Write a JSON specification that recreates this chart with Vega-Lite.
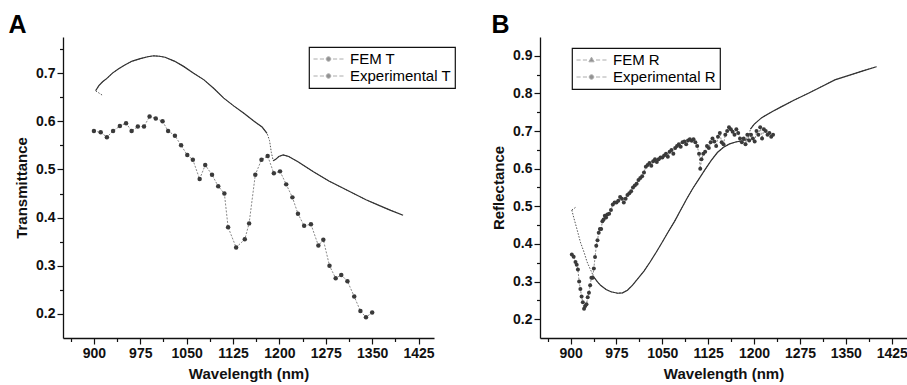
{
  "$schema": "https://vega.github.io/schema/vega-lite/v6.json",
  "background": "white",
  "padding": {"left": 8, "top": 13, "right": 0, "bottom": 2},
  "spacing": 35,
  "config": {
    "view": {"stroke": null},
    "font": "Liberation Sans",
    "axis": {
      "grid": false,
      "domainColor": "#111",
      "domainWidth": 1.3,
      "tickColor": "#111",
      "tickWidth": 1.2,
      "labelFont": "Liberation Sans",
      "labelFontSize": 14,
      "labelFontWeight": "bold",
      "labelColor": "#111",
      "titleFont": "Liberation Sans",
      "titleFontSize": 15,
      "titleFontWeight": "bold",
      "titleColor": "#111",
      "labelOverlap": false,
      "labelBound": false,
      "labelFlush": false,
      "labelPadding": 2,
      "titlePadding": 6
    },
    "legend": {
      "strokeColor": "#111",
      "strokeWidth": 1.2,
      "fillColor": "#fff",
      "padding": 4,
      "labelFontSize": 15,
      "labelFont": "Liberation Sans",
      "labelFontWeight": "normal",
      "labelColor": "#000",
      "symbolSize": 225,
      "labelOffset": 21,
      "rowPadding": 1,
      "symbolStrokeWidth": 1
    }
  },
  "datasets": {
    "Afem": [
      {"wavelength": 903, "T": 0.664}, {"wavelength": 908, "T": 0.674}, {"wavelength": 914, "T": 0.682},
      {"wavelength": 921, "T": 0.689}, {"wavelength": 930, "T": 0.7}, {"wavelength": 940, "T": 0.709},
      {"wavelength": 950, "T": 0.717}, {"wavelength": 962, "T": 0.725}, {"wavelength": 975, "T": 0.73},
      {"wavelength": 987, "T": 0.734}, {"wavelength": 997, "T": 0.736}, {"wavelength": 1006, "T": 0.735},
      {"wavelength": 1015, "T": 0.733}, {"wavelength": 1030, "T": 0.725}, {"wavelength": 1045, "T": 0.714},
      {"wavelength": 1060, "T": 0.701}, {"wavelength": 1078, "T": 0.686}, {"wavelength": 1094, "T": 0.668},
      {"wavelength": 1110, "T": 0.648}, {"wavelength": 1126, "T": 0.632}, {"wavelength": 1142, "T": 0.617},
      {"wavelength": 1158, "T": 0.601}, {"wavelength": 1172, "T": 0.588}, {"wavelength": 1180, "T": 0.575},
      {"wavelength": 1184, "T": 0.56}, {"wavelength": 1187, "T": 0.535}, {"wavelength": 1190, "T": 0.518},
      {"wavelength": 1194, "T": 0.521}, {"wavelength": 1199, "T": 0.527}, {"wavelength": 1206, "T": 0.53},
      {"wavelength": 1215, "T": 0.527}, {"wavelength": 1230, "T": 0.516}, {"wavelength": 1255, "T": 0.495},
      {"wavelength": 1280, "T": 0.476}, {"wavelength": 1300, "T": 0.463}, {"wavelength": 1320, "T": 0.45},
      {"wavelength": 1340, "T": 0.437}, {"wavelength": 1360, "T": 0.426}, {"wavelength": 1380, "T": 0.415},
      {"wavelength": 1400, "T": 0.405}
    ],
    "Astub": [
      {"wavelength": 903, "T": 0.663}, {"wavelength": 915, "T": 0.653}
    ],
    "Aexp": [
      {"wavelength": 900, "T": 0.58}, {"wavelength": 911, "T": 0.577}, {"wavelength": 921, "T": 0.567},
      {"wavelength": 931, "T": 0.58}, {"wavelength": 942, "T": 0.59}, {"wavelength": 952, "T": 0.596},
      {"wavelength": 961, "T": 0.58}, {"wavelength": 971, "T": 0.589}, {"wavelength": 981, "T": 0.589},
      {"wavelength": 990, "T": 0.61}, {"wavelength": 1000, "T": 0.606}, {"wavelength": 1011, "T": 0.6},
      {"wavelength": 1020, "T": 0.58}, {"wavelength": 1031, "T": 0.57}, {"wavelength": 1041, "T": 0.55},
      {"wavelength": 1051, "T": 0.53}, {"wavelength": 1060, "T": 0.52}, {"wavelength": 1071, "T": 0.48},
      {"wavelength": 1080, "T": 0.509}, {"wavelength": 1091, "T": 0.489}, {"wavelength": 1101, "T": 0.465},
      {"wavelength": 1111, "T": 0.45}, {"wavelength": 1117, "T": 0.38}, {"wavelength": 1130, "T": 0.338},
      {"wavelength": 1144, "T": 0.355}, {"wavelength": 1151, "T": 0.388}, {"wavelength": 1161, "T": 0.489},
      {"wavelength": 1171, "T": 0.52}, {"wavelength": 1181, "T": 0.528}, {"wavelength": 1191, "T": 0.492},
      {"wavelength": 1201, "T": 0.496}, {"wavelength": 1211, "T": 0.469}, {"wavelength": 1221, "T": 0.442},
      {"wavelength": 1230, "T": 0.408}, {"wavelength": 1240, "T": 0.383}, {"wavelength": 1251, "T": 0.386},
      {"wavelength": 1263, "T": 0.342}, {"wavelength": 1271, "T": 0.354}, {"wavelength": 1281, "T": 0.3},
      {"wavelength": 1291, "T": 0.274}, {"wavelength": 1300, "T": 0.281}, {"wavelength": 1310, "T": 0.268},
      {"wavelength": 1321, "T": 0.236}, {"wavelength": 1331, "T": 0.206}, {"wavelength": 1340, "T": 0.193},
      {"wavelength": 1350, "T": 0.203}
    ],
    "Bfem": [
      {"wavelength": 902, "R": 0.49}, {"wavelength": 905, "R": 0.471}, {"wavelength": 911, "R": 0.436},
      {"wavelength": 916, "R": 0.405}, {"wavelength": 922, "R": 0.378}, {"wavelength": 927, "R": 0.352},
      {"wavelength": 933, "R": 0.33}, {"wavelength": 938, "R": 0.312}, {"wavelength": 944, "R": 0.299},
      {"wavelength": 949, "R": 0.29}, {"wavelength": 958, "R": 0.279}, {"wavelength": 966, "R": 0.273},
      {"wavelength": 977, "R": 0.269}, {"wavelength": 985, "R": 0.27}, {"wavelength": 993, "R": 0.277},
      {"wavelength": 1001, "R": 0.29}, {"wavelength": 1010, "R": 0.308}, {"wavelength": 1020, "R": 0.328},
      {"wavelength": 1030, "R": 0.352}, {"wavelength": 1040, "R": 0.378}, {"wavelength": 1050, "R": 0.405},
      {"wavelength": 1060, "R": 0.433}, {"wavelength": 1070, "R": 0.46}, {"wavelength": 1080, "R": 0.49},
      {"wavelength": 1090, "R": 0.52}, {"wavelength": 1100, "R": 0.548}, {"wavelength": 1110, "R": 0.573},
      {"wavelength": 1120, "R": 0.598}, {"wavelength": 1130, "R": 0.622}, {"wavelength": 1140, "R": 0.643},
      {"wavelength": 1150, "R": 0.657}, {"wavelength": 1160, "R": 0.666}, {"wavelength": 1170, "R": 0.671},
      {"wavelength": 1180, "R": 0.674}, {"wavelength": 1190, "R": 0.678}, {"wavelength": 1194, "R": 0.705},
      {"wavelength": 1200, "R": 0.718}, {"wavelength": 1212, "R": 0.735}, {"wavelength": 1230, "R": 0.752},
      {"wavelength": 1245, "R": 0.765}, {"wavelength": 1265, "R": 0.782}, {"wavelength": 1288, "R": 0.8},
      {"wavelength": 1310, "R": 0.818}, {"wavelength": 1332, "R": 0.836}, {"wavelength": 1355, "R": 0.848},
      {"wavelength": 1378, "R": 0.86}, {"wavelength": 1400, "R": 0.871}
    ],
    "Bstub": [
      {"wavelength": 902, "R": 0.49}, {"wavelength": 908, "R": 0.497}
    ],
    "Bexp": [
      {"wavelength": 902, "R": 0.372}, {"wavelength": 905, "R": 0.366}, {"wavelength": 908, "R": 0.352},
      {"wavelength": 910, "R": 0.345}, {"wavelength": 912, "R": 0.332}, {"wavelength": 914, "R": 0.3},
      {"wavelength": 916, "R": 0.28}, {"wavelength": 918, "R": 0.26}, {"wavelength": 920, "R": 0.245},
      {"wavelength": 922, "R": 0.228}, {"wavelength": 924, "R": 0.235}, {"wavelength": 926, "R": 0.24},
      {"wavelength": 928, "R": 0.258}, {"wavelength": 930, "R": 0.27}, {"wavelength": 932, "R": 0.29},
      {"wavelength": 934, "R": 0.31}, {"wavelength": 936, "R": 0.31}, {"wavelength": 938, "R": 0.335},
      {"wavelength": 940, "R": 0.365}, {"wavelength": 942, "R": 0.395}, {"wavelength": 944, "R": 0.41},
      {"wavelength": 946, "R": 0.43}, {"wavelength": 948, "R": 0.44}, {"wavelength": 950, "R": 0.44},
      {"wavelength": 952, "R": 0.46}, {"wavelength": 954, "R": 0.465}, {"wavelength": 956, "R": 0.475},
      {"wavelength": 958, "R": 0.47}, {"wavelength": 960, "R": 0.478}, {"wavelength": 963, "R": 0.48},
      {"wavelength": 966, "R": 0.49}, {"wavelength": 969, "R": 0.505}, {"wavelength": 972, "R": 0.51},
      {"wavelength": 975, "R": 0.51}, {"wavelength": 978, "R": 0.515}, {"wavelength": 981, "R": 0.525},
      {"wavelength": 984, "R": 0.52}, {"wavelength": 987, "R": 0.51}, {"wavelength": 990, "R": 0.52},
      {"wavelength": 993, "R": 0.53}, {"wavelength": 996, "R": 0.535}, {"wavelength": 999, "R": 0.54},
      {"wavelength": 1002, "R": 0.55}, {"wavelength": 1005, "R": 0.555}, {"wavelength": 1008, "R": 0.56},
      {"wavelength": 1011, "R": 0.57}, {"wavelength": 1014, "R": 0.575}, {"wavelength": 1017, "R": 0.58},
      {"wavelength": 1020, "R": 0.59}, {"wavelength": 1023, "R": 0.605}, {"wavelength": 1026, "R": 0.61},
      {"wavelength": 1029, "R": 0.615}, {"wavelength": 1032, "R": 0.608}, {"wavelength": 1035, "R": 0.62},
      {"wavelength": 1038, "R": 0.625}, {"wavelength": 1041, "R": 0.618}, {"wavelength": 1044, "R": 0.625},
      {"wavelength": 1047, "R": 0.63}, {"wavelength": 1050, "R": 0.63}, {"wavelength": 1053, "R": 0.635},
      {"wavelength": 1056, "R": 0.64}, {"wavelength": 1059, "R": 0.632}, {"wavelength": 1062, "R": 0.645},
      {"wavelength": 1065, "R": 0.65}, {"wavelength": 1068, "R": 0.64}, {"wavelength": 1071, "R": 0.655},
      {"wavelength": 1074, "R": 0.66}, {"wavelength": 1077, "R": 0.665}, {"wavelength": 1080, "R": 0.658},
      {"wavelength": 1083, "R": 0.67}, {"wavelength": 1086, "R": 0.672}, {"wavelength": 1089, "R": 0.665},
      {"wavelength": 1092, "R": 0.675}, {"wavelength": 1095, "R": 0.678}, {"wavelength": 1098, "R": 0.674},
      {"wavelength": 1101, "R": 0.678}, {"wavelength": 1104, "R": 0.67}, {"wavelength": 1107, "R": 0.66},
      {"wavelength": 1110, "R": 0.64}, {"wavelength": 1112, "R": 0.6}, {"wavelength": 1114, "R": 0.625},
      {"wavelength": 1117, "R": 0.64}, {"wavelength": 1120, "R": 0.645}, {"wavelength": 1123, "R": 0.66},
      {"wavelength": 1126, "R": 0.655}, {"wavelength": 1129, "R": 0.67}, {"wavelength": 1132, "R": 0.68},
      {"wavelength": 1135, "R": 0.672}, {"wavelength": 1138, "R": 0.66}, {"wavelength": 1141, "R": 0.685},
      {"wavelength": 1144, "R": 0.695}, {"wavelength": 1147, "R": 0.67}, {"wavelength": 1150, "R": 0.665},
      {"wavelength": 1153, "R": 0.69}, {"wavelength": 1156, "R": 0.7}, {"wavelength": 1159, "R": 0.71},
      {"wavelength": 1162, "R": 0.705}, {"wavelength": 1165, "R": 0.698}, {"wavelength": 1168, "R": 0.69},
      {"wavelength": 1171, "R": 0.705}, {"wavelength": 1174, "R": 0.695}, {"wavelength": 1177, "R": 0.68},
      {"wavelength": 1180, "R": 0.67}, {"wavelength": 1183, "R": 0.68}, {"wavelength": 1186, "R": 0.665},
      {"wavelength": 1189, "R": 0.69}, {"wavelength": 1192, "R": 0.675}, {"wavelength": 1195, "R": 0.69},
      {"wavelength": 1198, "R": 0.68}, {"wavelength": 1201, "R": 0.672}, {"wavelength": 1204, "R": 0.7},
      {"wavelength": 1207, "R": 0.69}, {"wavelength": 1210, "R": 0.71}, {"wavelength": 1213, "R": 0.68},
      {"wavelength": 1216, "R": 0.705}, {"wavelength": 1219, "R": 0.7}, {"wavelength": 1222, "R": 0.69},
      {"wavelength": 1225, "R": 0.695}, {"wavelength": 1228, "R": 0.685}, {"wavelength": 1231, "R": 0.69}
    ]
  },
  "hconcat": [
    {
      "title": {"text": "A", "anchor": "start", "fontSize": 25, "fontWeight": "bold", "font": "Liberation Sans", "color": "#000", "dx": -6, "offset": -1},
      "width": 371,
      "height": 301,
      "encoding": {
        "x": {
          "field": "wavelength", "type": "quantitative",
          "scale": {"domain": [850, 1450], "nice": false, "zero": false},
          "axis": {
            "title": "Wavelength (nm)",
            "values": [862.5, 900, 937.5, 975, 1012.5, 1050, 1087.5, 1125, 1162.5, 1200, 1237.5, 1275, 1312.5, 1350, 1387.5, 1425],
            "labelExpr": "datum.value % 75 == 0 ? format(datum.value, 'd') : ''",
            "tickSize": {"condition": {"test": "datum.value % 75 == 0", "value": 6}, "value": 3.5}
          }
        },
        "y": {
          "field": "T", "type": "quantitative",
          "scale": {"domain": [0.15, 0.775], "nice": false, "zero": false},
          "axis": {
            "title": "Transmittance",
            "values": [0.2, 0.25, 0.3, 0.35, 0.4, 0.45, 0.5, 0.55, 0.6, 0.65, 0.7, 0.75],
            "labelExpr": "round(datum.value * 100) % 10 == 0 ? format(datum.value, '.1f') : ''",
            "tickSize": {"condition": {"test": "round(datum.value * 100) % 10 == 0", "value": 6}, "value": 3.5}
          }
        }
      },
      "layer": [
        {"data": {"name": "Afem"}, "mark": {"type": "line", "stroke": "#555", "strokeWidth": 1, "strokeDash": [1.5, 1.5]}},
        {"data": {"name": "Afem"}, "transform": [{"filter": {"field": "wavelength", "range": [903, 1180]}}], "mark": {"type": "line", "stroke": "#333", "strokeWidth": 1.2}},
        {"data": {"name": "Afem"}, "transform": [{"filter": {"field": "wavelength", "range": [1190, 1400]}}], "mark": {"type": "line", "stroke": "#333", "strokeWidth": 1.2}},
        {"data": {"name": "Astub"}, "mark": {"type": "line", "stroke": "#555", "strokeWidth": 1, "strokeDash": [1.5, 1.5]}},
        {"data": {"name": "Aexp"}, "mark": {"type": "line", "stroke": "#888", "strokeWidth": 1, "strokeDash": [2, 1.5]}},
        {"data": {"name": "Aexp"}, "mark": {"type": "point", "filled": true, "fill": "#3a3a3a", "size": 20, "opacity": 1}},
        {
          "data": {"values": [{"series": "FEM T"}, {"series": "Experimental T"}]},
          "transform": [{"filter": "false"}],
          "mark": {"type": "point", "filled": true, "strokeWidth": 1},
          "encoding": {
            "fill": {"field": "series", "type": "nominal", "scale": {"domain": ["FEM T", "Experimental T"], "range": ["#222", "#222"]},
              "legend": {"title": null, "orient": "none", "legendX": 246, "legendY": 10}},
            "stroke": {"field": "series", "type": "nominal", "scale": {"domain": ["FEM T", "Experimental T"], "range": ["#8a8a8a", "#8a8a8a"]},
              "legend": {"title": null, "orient": "none", "legendX": 246, "legendY": 10}},
            "shape": {"field": "series", "type": "nominal", "scale": {"domain": ["FEM T", "Experimental T"], "range": [
                "M-1,0L-0.45,0M-0.15,0L0.4,0M1.6,0L2.15,0M2.45,0L3,0M1.3,0A0.3,0.3 0 1 1 0.7,0A0.3,0.3 0 1 1 1.3,0Z",
                "M-1,0L-0.45,0M-0.15,0L0.4,0M1.6,0L2.15,0M2.45,0L3,0M1.3,0A0.3,0.3 0 1 1 0.7,0A0.3,0.3 0 1 1 1.3,0Z"]},
              "legend": {"title": null, "orient": "none", "legendX": 246, "legendY": 10}}
          }
        }
      ]
    },
    {
      "title": {"text": "B", "anchor": "start", "fontSize": 25, "fontWeight": "bold", "font": "Liberation Sans", "color": "#000", "dx": 0, "offset": -1},
      "width": 367,
      "height": 301,
      "encoding": {
        "x": {
          "field": "wavelength", "type": "quantitative",
          "scale": {"domain": [850, 1450], "nice": false, "zero": false},
          "axis": {
            "title": "Wavelength (nm)",
            "values": [862.5, 900, 937.5, 975, 1012.5, 1050, 1087.5, 1125, 1162.5, 1200, 1237.5, 1275, 1312.5, 1350, 1387.5, 1425],
            "labelExpr": "datum.value % 75 == 0 ? format(datum.value, 'd') : ''",
            "tickSize": {"condition": {"test": "datum.value % 75 == 0", "value": 6}, "value": 3.5}
          }
        },
        "y": {
          "field": "R", "type": "quantitative",
          "scale": {"domain": [0.15, 0.95], "nice": false, "zero": false},
          "axis": {
            "title": "Reflectance",
            "values": [0.2, 0.25, 0.3, 0.35, 0.4, 0.45, 0.5, 0.55, 0.6, 0.65, 0.7, 0.75, 0.8, 0.85, 0.9],
            "labelExpr": "round(datum.value * 100) % 10 == 0 ? format(datum.value, '.1f') : ''",
            "tickSize": {"condition": {"test": "round(datum.value * 100) % 10 == 0", "value": 6}, "value": 3.5}
          }
        }
      },
      "layer": [
        {"data": {"name": "Bfem"}, "mark": {"type": "line", "stroke": "#555", "strokeWidth": 1, "strokeDash": [1.5, 1.5]}},
        {"data": {"name": "Bfem"}, "transform": [{"filter": {"field": "wavelength", "range": [935, 1190]}}], "mark": {"type": "line", "stroke": "#333", "strokeWidth": 1.2}},
        {"data": {"name": "Bfem"}, "transform": [{"filter": {"field": "wavelength", "range": [1194, 1400]}}], "mark": {"type": "line", "stroke": "#333", "strokeWidth": 1.2}},
        {"data": {"name": "Bstub"}, "mark": {"type": "line", "stroke": "#555", "strokeWidth": 1, "strokeDash": [1.5, 1.5]}},
        {"data": {"name": "Bexp"}, "mark": {"type": "line", "stroke": "#888", "strokeWidth": 1, "strokeDash": [2, 1.5]}},
        {"data": {"name": "Bexp"}, "mark": {"type": "point", "filled": true, "fill": "#3a3a3a", "size": 16, "opacity": 1}},
        {
          "data": {"values": [{"series": "FEM R"}, {"series": "Experimental R"}]},
          "transform": [{"filter": "false"}],
          "mark": {"type": "point", "filled": true, "strokeWidth": 1},
          "encoding": {
            "fill": {"field": "series", "type": "nominal", "scale": {"domain": ["FEM R", "Experimental R"], "range": ["#222", "#222"]},
              "legend": {"title": null, "orient": "none", "legendX": 32, "legendY": 11}},
            "stroke": {"field": "series", "type": "nominal", "scale": {"domain": ["FEM R", "Experimental R"], "range": ["#8a8a8a", "#8a8a8a"]},
              "legend": {"title": null, "orient": "none", "legendX": 32, "legendY": 11}},
            "shape": {"field": "series", "type": "nominal", "scale": {"domain": ["FEM R", "Experimental R"], "range": [
                "M-1,0L-0.45,0M-0.15,0L0.4,0M1.6,0L2.15,0M2.45,0L3,0M1,-0.38L1.35,0.24L0.65,0.24Z",
                "M-1,0L-0.45,0M-0.15,0L0.4,0M1.6,0L2.15,0M2.45,0L3,0M1.3,0A0.3,0.3 0 1 1 0.7,0A0.3,0.3 0 1 1 1.3,0Z"]},
              "legend": {"title": null, "orient": "none", "legendX": 32, "legendY": 11}}
          }
        }
      ]
    }
  ],
  "resolve": {
    "scale": {"x": "independent", "y": "independent", "fill": "independent", "stroke": "independent", "shape": "independent"},
    "legend": {"fill": "independent", "stroke": "independent", "shape": "independent"}
  }
}
